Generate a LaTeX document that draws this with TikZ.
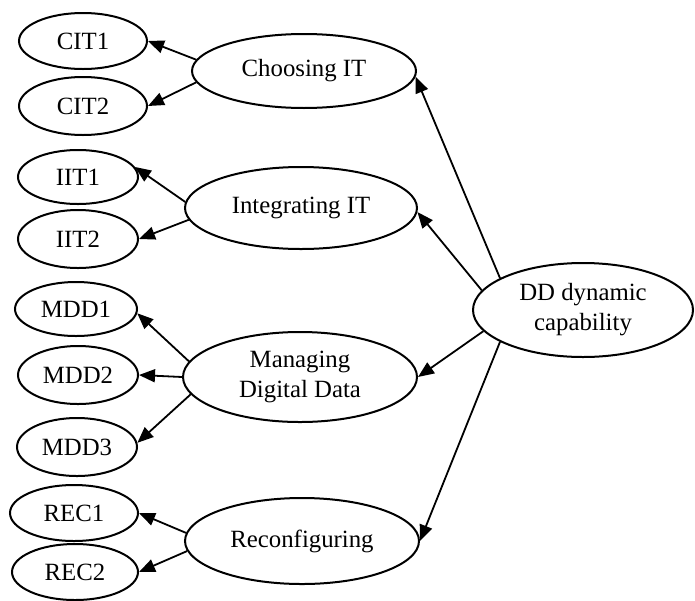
\documentclass[tikz,border=0pt]{standalone}
\usepackage{fontspec}
\setmainfont{Liberation Serif}
\usetikzlibrary{shapes.geometric,arrows.meta}
\begin{document}
\begin{tikzpicture}[x=0.5pt,y=-0.5pt,
  ell/.style={draw,ellipse,line width=1pt,inner sep=0pt,align=center,
    font=\fontsize{12.4pt}{15pt}\selectfont},
  arr/.style={line width=0.9pt,-{Triangle[length=8pt,width=6.5pt]}}]
\useasboundingbox (0,0) rectangle (695,600);
% indicators
\node[ell,minimum width=64pt,minimum height=28pt] (cit1) at (83,41) {CIT1};
\node[ell,minimum width=64pt,minimum height=29pt] (cit2) at (83,106) {CIT2};
\node[ell,minimum width=60pt,minimum height=27pt] (iit1) at (78,177) {IIT1};
\node[ell,minimum width=60pt,minimum height=29pt] (iit2) at (78,239) {IIT2};
\node[ell,minimum width=61pt,minimum height=27pt] (mdd1) at (76,309) {MDD1};
\node[ell,minimum width=60pt,minimum height=29pt] (mdd2) at (78,375) {MDD2};
\node[ell,minimum width=60pt,minimum height=29pt] (mdd3) at (77,447) {MDD3};
\node[ell,minimum width=64pt,minimum height=28pt] (rec1) at (74,513) {REC1};
\node[ell,minimum width=63pt,minimum height=28pt] (rec2) at (75,572) {REC2};
% dimensions
\node[ell,minimum width=112pt,minimum height=37pt] (cho) at (304,71) {Choosing IT};
\node[ell,minimum width=116pt,minimum height=41pt] (int) at (301,208) {Integrating IT};
\node[ell,minimum width=117pt,minimum height=45pt] (man) at (300,377) {Managing\\Digital Data};
\node[ell,minimum width=117pt,minimum height=43pt] (rec) at (302,541) {Reconfiguring};
% second order
\node[ell,minimum width=110pt,minimum height=47pt] (dd) at (583,310) {DD dynamic\\capability};
% arrows
\draw[arr] (dd.159) -- (cho.-3);
\draw[arr] (dd.169) -- (int.-2);
\draw[arr] (dd.192) -- (man.east);
\draw[arr] (dd.201) -- (rec.east);
\draw[arr] (cho.174) -- (cit1.east);
\draw[arr] (cho.186) -- (cit2.east);
\draw[arr] (int.177) -- (iit1.10);
\draw[arr] (int.186) -- (iit2.east);
\draw[arr] (man.172) -- (mdd1.-4);
\draw[arr] (man.west) -- (mdd2.east);
\draw[arr] (man.189) -- (mdd3.4);
\draw[arr] (rec.176) -- (rec1.east);
\draw[arr] (rec.185) -- (rec2.east);
\end{tikzpicture}
\end{document}
